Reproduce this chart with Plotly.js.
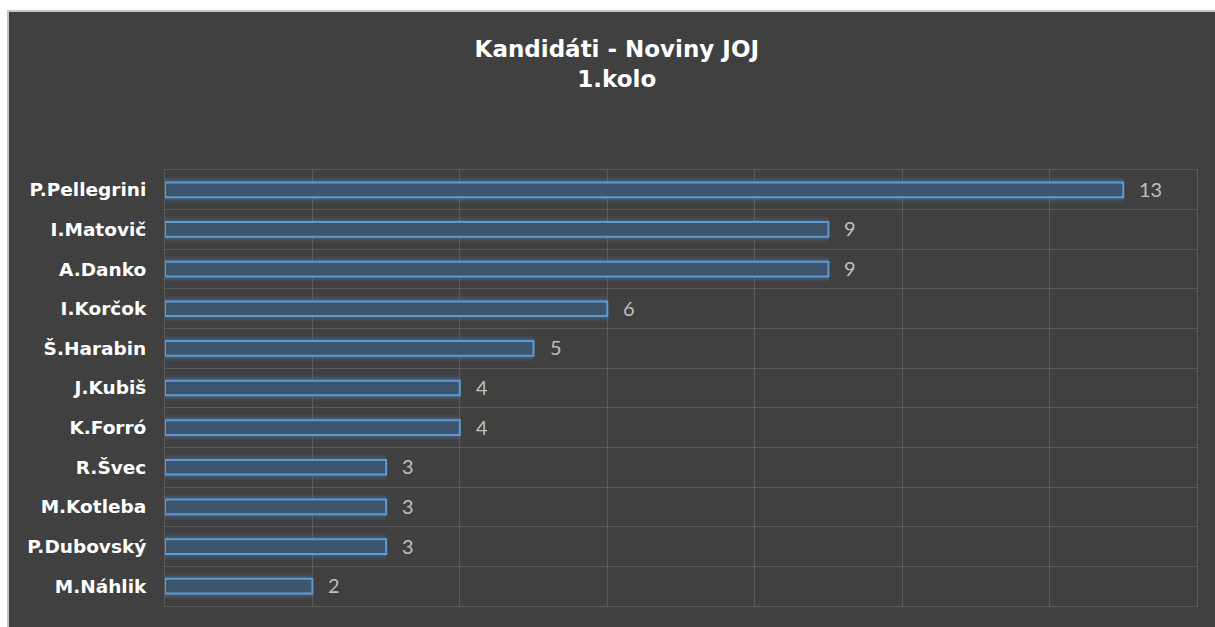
<!DOCTYPE html>
<html>
<head>
<meta charset="utf-8">
<script src="https://cdn.plot.ly/plotly-3.0.1.min.js"></script>
<style>
  html, body { margin: 0; padding: 0; background: #ffffff; width: 1215px; height: 627px; overflow: hidden; }
  #wrap { position: absolute; left: 7px; top: 10px; border-left: 2px solid #c4c4c4; border-top: 2px solid #c4c4c4; background: #404040; }
  #chart { width: 1206px; height: 615px; }
</style>
</head>
<body>
<div id="wrap"><div id="chart"></div></div>
<script>
const candidates = ["P.Pellegrini", "I.Matovič", "A.Danko", "I.Korčok", "Š.Harabin", "J.Kubiš", "K.Forró", "R.Švec", "M.Kotleba", "P.Dubovský", "M.Náhlik"];
const values = [13, 9, 9, 6, 5, 4, 4, 3, 3, 3, 2];
const titleLines = ["Kandidáti - Noviny JOJ", "1.kolo"];

const glowOuter = {
  type: "bar", orientation: "h", x: values, y: candidates, width: 0.64,
  marker: { color: "rgba(80,140,200,0.12)", line: { width: 0 } },
  hoverinfo: "skip", showlegend: false
};
const glowInner = {
  type: "bar", orientation: "h", x: values, y: candidates, width: 0.52,
  marker: { color: "rgba(80,140,200,0.20)", line: { width: 0 } },
  hoverinfo: "skip", showlegend: false
};
const bars = {
  type: "bar", orientation: "h", x: values, y: candidates, width: 0.37,
  marker: { color: "#3d566d", line: { color: "#5b9bd5", width: 2 } },
  hoverinfo: "skip", showlegend: false
};

const valueLabels = values.map((v, i) => ({
  x: v, y: candidates[i], xref: "x", yref: "y",
  text: String(v), showarrow: false, xanchor: "left", yanchor: "middle",
  xshift: 14, yshift: 1,
  font: { family: "Lato, 'Open Sans', sans-serif", size: 20, color: "#bfbfbf" }
}));

const layout = {
  width: 1206, height: 615,
  paper_bgcolor: "#404040", plot_bgcolor: "#404040",
  margin: { l: 156, r: 18, t: 158, b: 21, pad: 0 },
  barmode: "overlay",
  title: {
    text: titleLines.join("<br>"),
    x: 0.504, xref: "container", xanchor: "center",
    y: 0.927, yref: "container", yanchor: "middle",
    font: { family: "'DejaVu Sans', sans-serif", size: 23, color: "#ffffff", weight: "bold" }
  },
  xaxis: {
    range: [0, 14], dtick: 2, tick0: 0,
    showticklabels: false, ticks: "",
    showgrid: true, gridcolor: "#5a5a5a", gridwidth: 1,
    zeroline: false, showline: true, mirror: true, linecolor: "#5a5a5a", linewidth: 1,
    fixedrange: true
  },
  yaxis: {
    type: "category", autorange: "reversed",
    tickson: "boundaries", ticks: "",
    showgrid: true, gridcolor: "#5a5a5a", gridwidth: 1,
    ticklabelstandoff: 14,
    tickfont: { family: "'DejaVu Sans', sans-serif", size: 18.5, color: "#ffffff", weight: "bold" },
    zeroline: false, showline: true, mirror: true, linecolor: "#5a5a5a", linewidth: 1,
    fixedrange: true
  },
  annotations: valueLabels
};

Plotly.newPlot("chart", [glowOuter, glowInner, bars], layout, { displayModeBar: false, staticPlot: true });
</script>
</body>
</html>
